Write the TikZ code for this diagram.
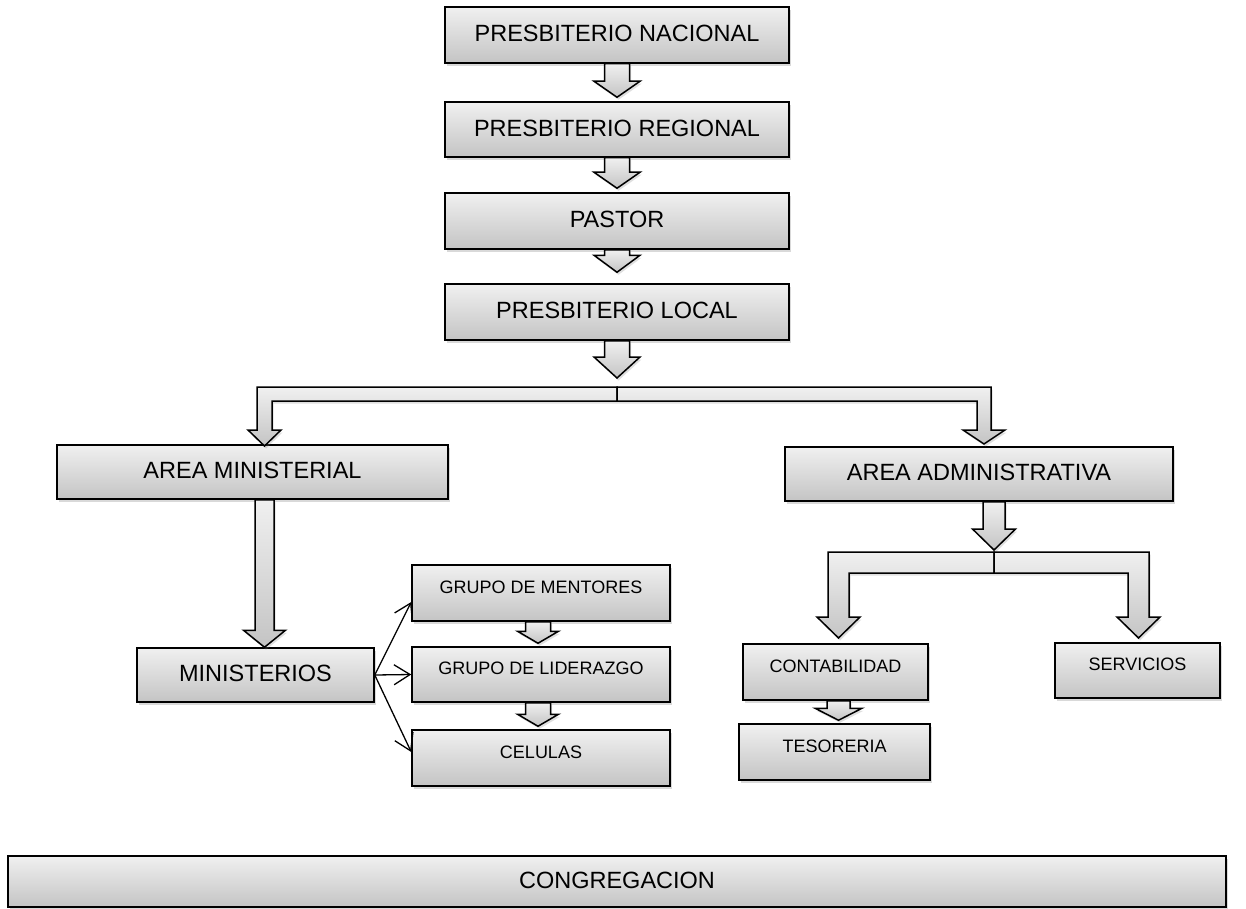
\documentclass[tikz,border=0pt]{standalone}
\usepackage{fontspec}
\setmainfont{Liberation Sans}
\usetikzlibrary{calc,shadows,arrows.meta}
\definecolor{boxtop}{HTML}{F0F0F0}
\definecolor{boxbot}{HTML}{C4C4C4}
\tikzset{bx/.append style={draw, line width=1.5pt, top color=boxtop, bottom color=boxbot, drop shadow={opacity=0.3, shadow xshift=2pt, shadow yshift=-3pt}, inner sep=0pt, text depth=3pt, font=\fontsize{23.5}{28}\selectfont}}
\tikzset{sm/.append style={text depth=12pt, font=\fontsize{18}{22}\selectfont}}
\tikzset{blk/.append style={draw, line width=1.5pt, line join=miter, top color=boxtop, bottom color=boxbot, drop shadow={opacity=0.25, shadow xshift=1.5pt, shadow yshift=-2.5pt}}}
\tikzset{stemw/.store in=\stemw, headw/.store in=\headw, headl/.store in=\headl, stemw=12.5pt, headw=23pt, headl=16pt}
\tikzset{con/.append style={line width=1.3pt, -{Straight Barb[length=16pt,width=20pt]}}}
% hollow block arrow, straight down from #2 to the tip #3
\newcommand{\blkarrow}[3][]{%
  \path[blk,#1] let \p1=#2, \p2=#3 in
    (\x1-\stemw,\y1) -- (\x1+\stemw,\y1) -- (\x1+\stemw,\y2+\headl)
    -- (\x1+\headw,\y2+\headl) -- (\x1,\y2) -- (\x1-\headw,\y2+\headl)
    -- (\x1-\stemw,\y2+\headl) -- cycle;}

\begin{document}
\begin{tikzpicture}[x=1pt,y=-1pt]
  \useasboundingbox (0,0) rectangle (1246,909);
  % boxes
  \node[bx, minimum width=344pt, minimum height=56pt] (nac) at (617,35) {PRESBITERIO NACIONAL};
  \node[bx, minimum width=344pt, minimum height=55pt] (reg) at (617,129.5) {PRESBITERIO REGIONAL};
  \node[bx, minimum width=344pt, minimum height=56pt] (pas) at (617,221) {PASTOR};
  \node[bx, minimum width=344pt, minimum height=56pt] (loc) at (617,312) {PRESBITERIO LOCAL};
  \node[bx, minimum width=391pt, minimum height=54pt] (amin) at (252.5,472) {AREA MINISTERIAL};
  \node[bx, minimum width=388pt, minimum height=54pt] (adm) at (979,474) {AREA ADMINISTRATIVA};
  \node[bx, minimum width=237pt, minimum height=54pt] (mins) at (255.5,675) {MINISTERIOS};
  \node[bx,sm, minimum width=258pt, minimum height=56pt] (ment) at (541,593) {GRUPO DE MENTORES};
  \node[bx,sm, minimum width=258pt, minimum height=55pt] (lid) at (541,674.5) {GRUPO DE LIDERAZGO};
  \node[bx,sm, minimum width=258pt, minimum height=56pt] (cel) at (541,758) {CELULAS};
  \node[bx,sm, minimum width=185pt, minimum height=56pt] (cont) at (835.5,672) {CONTABILIDAD};
  \node[bx,sm, minimum width=191pt, minimum height=56pt] (tes) at (834.5,752) {TESORERIA};
  \node[bx,sm, minimum width=165pt, minimum height=55pt] (serv) at (1137.5,670.5) {SERVICIOS};
  \node[bx, minimum width=1218pt, minimum height=51pt] (cong) at (617,881.5) {CONGREGACION};
  % split points
  \coordinate (j1) at (617,387);
  \coordinate (j2) at (994,552);
  % block arrows
  \blkarrow{(nac.south)}{([yshift=4pt]reg.north)}
  \blkarrow{(reg.south)}{([yshift=4pt]pas.north)}
  \blkarrow[headl=17pt]{(pas.south)}{([yshift=11pt]loc.north)}
  \blkarrow[headl=21pt]{(loc.south)}{([yshift=9pt]j1)}
  \blkarrow[stemw=9.5pt,headw=21pt,headl=17pt]{([xshift=12pt]amin.south)}{(mins.north)}
  \blkarrow[stemw=11pt,headw=21.5pt,headl=21pt]{([xshift=15pt]adm.south)}{([yshift=2pt]j2)}
  \blkarrow[headw=20.5pt,headl=12pt]{([xshift=-3pt]ment.south)}{([yshift=3pt]lid.north)}
  \blkarrow[headw=20.5pt,headl=12pt]{([xshift=-3pt]lid.south)}{([yshift=3pt]cel.north)}
  \blkarrow[stemw=11.5pt,headw=23.5pt,headl=12pt]{([xshift=3pt]cont.south)}{([yshift=3pt]tes.north)}
  % forked arrows
  \path[blk] (j1) -- (257,387) -- (257,430) -- (248,430) -- (264.5,446) -- (281,430) -- (272,430) -- (272,401) -- (617,401) -- cycle;
  \path[blk] (j1) -- (991,387) -- (991,430) -- (1005,430) -- (984,444) -- (963,430) -- (977,430) -- (977,401) -- (617,401) -- cycle;
  \path[blk] (j2) -- (828,552) -- (828,617) -- (817,617) -- (838.5,638) -- (860,617) -- (849,617) -- (849,573) -- (994,573) -- cycle;
  \path[blk] (j2) -- (1149,552) -- (1149,617) -- (1160,617) -- (1138.5,638) -- (1117,617) -- (1128,617) -- (1128,573) -- (994,573) -- cycle;
  % thin arrows
  \draw[con] (mins.east) -- ([yshift=-9pt]ment.west);
  \draw[con] (mins.east) -- (lid.west);
  \draw[con] (mins.east) -- ([yshift=6pt]cel.west);
\end{tikzpicture}
\end{document}
